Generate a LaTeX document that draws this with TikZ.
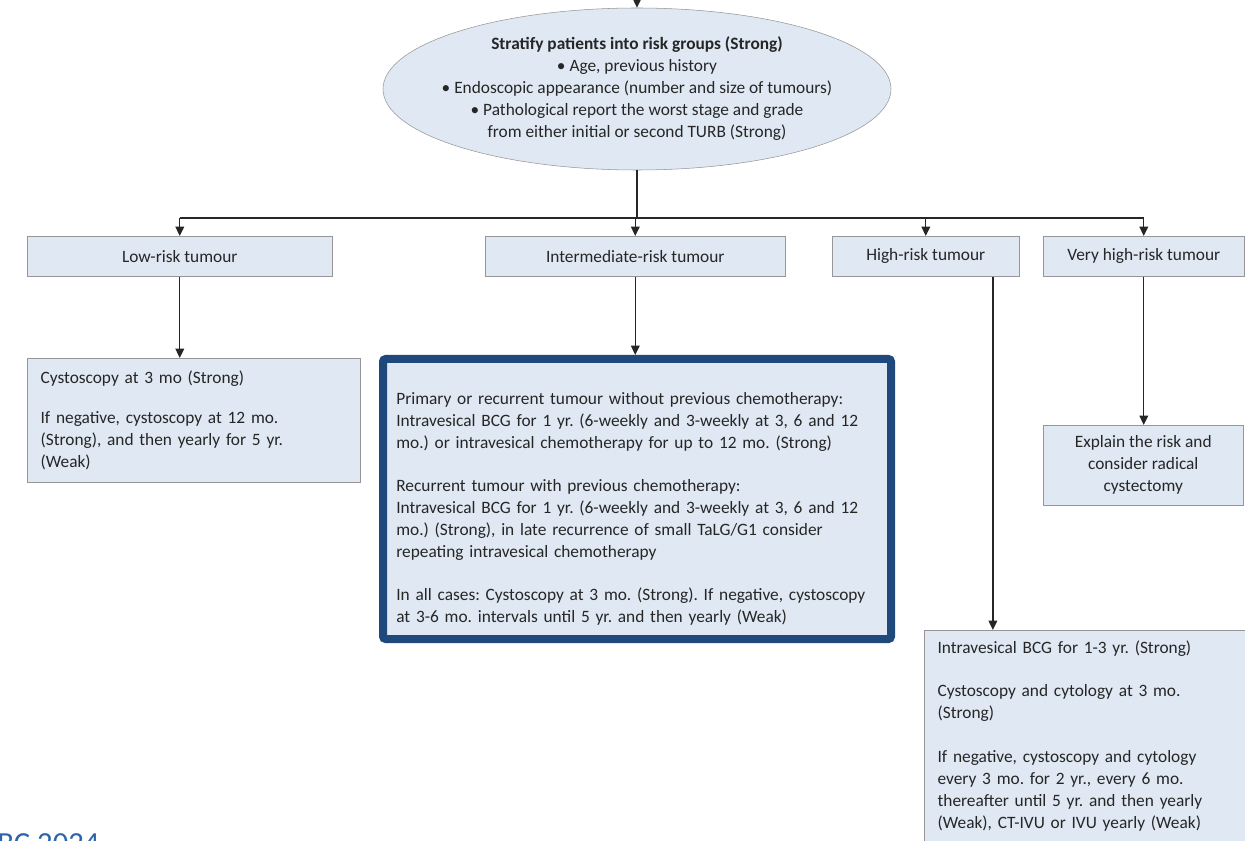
\documentclass[tikz,border=0pt]{standalone}
\usepackage{fontspec}
\setmainfont{Carlito}
\usetikzlibrary{arrows.meta,shapes.geometric}
\definecolor{boxfill}{RGB}{223,232,243}
\definecolor{boxline}{RGB}{150,150,150}
\definecolor{darkblue}{RGB}{31,73,125}
\definecolor{txt}{RGB}{38,38,38}
\definecolor{footblue}{RGB}{46,100,170}
\frenchspacing
\begin{document}
\begin{tikzpicture}[x=0.75pt, y=-0.75pt,
  font=\fontsize{13}{16.5}\selectfont, text=txt,
  riskbox/.style={draw=boxline, fill=boxfill, anchor=north west, inner sep=0pt},
  detail/.style={riskbox, align=left, inner xsep=10pt},
  arrow/.style={draw=black!85, line width=1pt, -{Triangle[length=7pt, width=6.5pt]}},
  link/.style={draw=black!85, line width=1pt}]
  \useasboundingbox (0,0) rectangle (1245,841);

  % Stratification
  \node[ellipse, draw=boxline, fill=boxfill, minimum width=381pt, minimum height=121.5pt,
    inner sep=0pt] (strat) at (637,89) {};
  \node[align=center, inner sep=0pt] (strattxt) at (strat.center)
    {\textbf{Stratify patients into risk groups (Strong)}\\
     • Age, previous history\\
     • Endoscopic appearance (number and size of tumours)\\
     • Pathological report the worst stage and grade\\
     from either initial or second TURB (Strong)};
  \coordinate (top) at (637,-10);
  \draw[arrow] (top) -- (strat.north);

  % Risk groups
  \node[riskbox, minimum width=228.75pt, minimum height=30pt] (low) at (27,236) {Low-risk tumour};
  \node[riskbox, minimum width=225pt, minimum height=30pt] (inter) at (485,236) {Intermediate-risk tumour};
  \node[riskbox, minimum width=140.25pt, minimum height=30pt] (high) at (832,236) {High-risk tumour};
  \node[riskbox, minimum width=150.75pt, minimum height=30pt] (vhigh) at (1043,236) {Very high-risk tumour};

  % Branches
  \coordinate (split) at (637,218);
  \foreach \g in {low, inter, high, vhigh}
    \coordinate (j\g) at (\g.north |- split);
  \draw[link] (strat.south) -- (split);
  \draw[link] (jlow) -- (jvhigh);
  \foreach \g in {low, inter, high, vhigh}
    \draw[arrow] (j\g) -- (\g.north);

  % Follow-up
  \node[detail, minimum width=249.75pt, minimum height=93pt, text width=229.75pt] (lowdet) at (27,358)
    {Cystoscopy at 3 mo (Strong)\\[14pt]
     If negative, cystoscopy at 12 mo.\\
     (Strong), and then yearly for 5 yr.\\
     (Weak)};
  \node[detail, draw=darkblue, line width=6pt, rounded corners=2pt, minimum width=381pt,
    minimum height=210pt, text width=361pt, inner xsep=10pt] (interdet) at (379,355)
    {\rule{0pt}{24pt}Primary or recurrent tumour without previous chemotherapy:\\
     Intravesical BCG for 1 yr. (6-weekly and 3-weekly at 3, 6 and 12\\
     mo.) or intravesical chemotherapy for up to 12 mo. (Strong)\\[16pt]
     Recurrent tumour with previous chemotherapy:\\
     Intravesical BCG for 1 yr. (6-weekly and 3-weekly at 3, 6 and 12\\
     mo.) (Strong), in late recurrence of small TaLG/G1 consider\\
     repeating intravesical chemotherapy\\[16pt]
     In all cases: Cystoscopy at 3 mo. (Strong). If negative, cystoscopy\\
     at 3-6 mo. intervals until 5 yr. and then yearly (Weak)};
  \node[riskbox, align=center, minimum width=150pt, minimum height=60pt] (vhdet) at (1043,425)
    {Explain the risk and\\ consider radical\\ cystectomy};
  \node[detail, anchor=north west, minimum width=245pt, text width=225pt,
    inner ysep=8pt] (hidet) at (924,630)
    {Intravesical BCG for 1-3 yr. (Strong)\\[16pt]
     Cystoscopy and cytology at 3 mo.\\
     (Strong)\\[16pt]
     If negative, cystoscopy and cytology\\
     every 3 mo. for 2 yr., every 6 mo.\\
     thereafter until 5 yr. and then yearly\\
     (Weak), CT-IVU or IVU yearly (Weak)\rule[-14pt]{0pt}{0pt}};

  \draw[arrow] (low.south) -- (low.south |- lowdet.north);
  \draw[arrow] (inter.south) -- (inter.south |- interdet.north);
  \draw[arrow] ([xshift=-20pt]high.south east) -- ([xshift=-20pt]high.south east |- hidet.north);
  \draw[arrow] (vhigh.south) -- (vhigh.south |- vhdet.north);

  % Footer
  \node[anchor=base west, inner sep=0pt, text=footblue, font=\fontsize{23}{26}\selectfont] (year) at (-3,853) {BC 2024};
\end{tikzpicture}
\end{document}
